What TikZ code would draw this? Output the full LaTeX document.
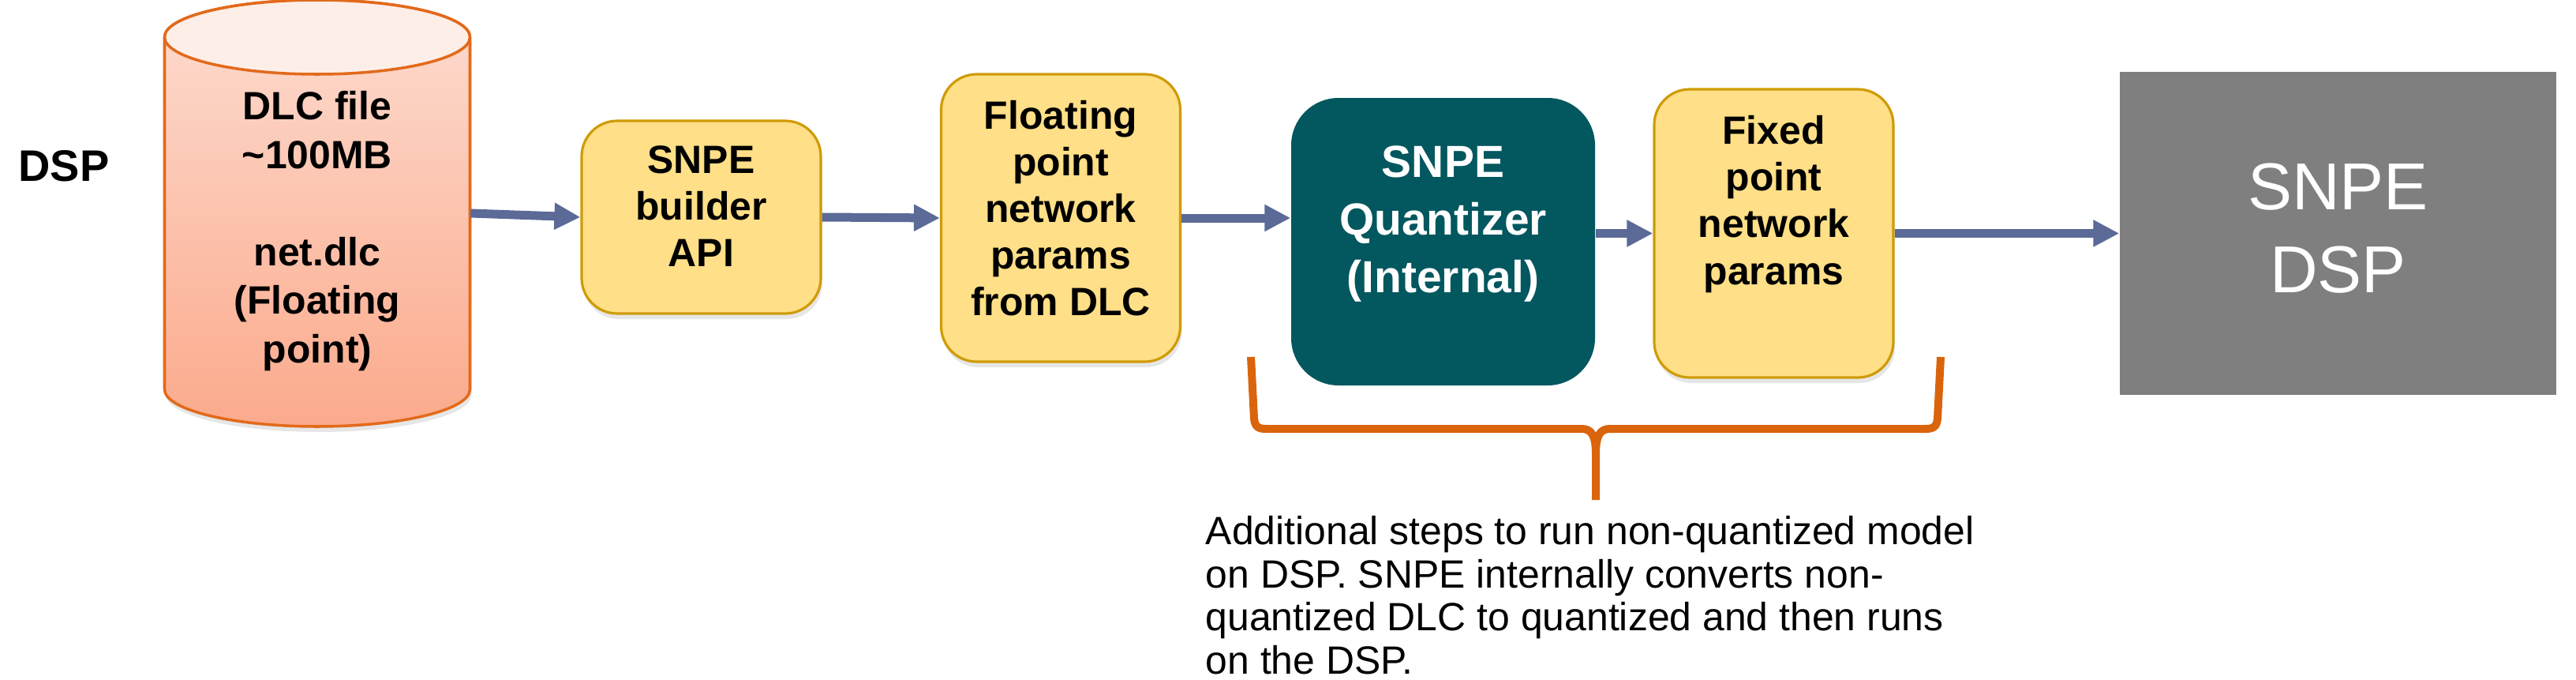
\documentclass[tikz,border=0pt]{standalone}
\usepackage{fontspec}
\setmainfont{Liberation Sans}
\usepackage{tikz}
\usetikzlibrary{arrows.meta,shadows}

\definecolor{boxfill}{HTML}{FFDF87}
\definecolor{boxedge}{HTML}{CF9B05}
\definecolor{quantfill}{HTML}{03575F}
\definecolor{dspgray}{HTML}{7F7F7F}
\definecolor{flowblue}{HTML}{5B6A96}
\definecolor{braceorange}{HTML}{D9640C}
\definecolor{dlctop}{HTML}{FDDCD0}
\definecolor{dlcbottom}{HTML}{FBAA8C}
\definecolor{dlccap}{HTML}{FEEEE8}
\definecolor{dlcedge}{HTML}{E26A1B}

\newcommand{\boxtext}[2]{\raisebox{#1}[0pt][0pt]{\begin{tabular}{@{}c@{}}#2\end{tabular}}}

\begin{document}
\begin{tikzpicture}[
  box/.style={draw=boxedge,fill=boxfill,line width=0.9pt,rounded corners=0.45cm,minimum width=3.03cm,
    font=\fontsize{14.2}{16.8}\selectfont\bfseries,
    drop shadow={shadow xshift=0.02cm,shadow yshift=-0.07cm,opacity=0.2}},
  flow/.style={-{Triangle[length=0.33cm,width=0.32cm]},line width=0.11cm,draw=flowblue},
  brace/.style={line width=0.1cm,draw=braceorange}]
  \useasboundingbox (0,0) rectangle (32.64,-8.60);
  \shadedraw[top color=dlctop,bottom color=dlcbottom,draw=dlcedge,line width=1pt,
    drop shadow={shadow xshift=0.02cm,shadow yshift=-0.07cm,opacity=0.2}]
    (2.085,-0.47) -- (2.085,-4.93) arc (180:360:1.935 and 0.47) -- (5.955,-0.47) arc (0:180:1.935 and 0.47) -- cycle;
  \draw[fill=dlccap,draw=dlcedge,line width=1pt] (4.02,-0.47) ellipse (1.935 and 0.47);
  \node (dsplabel) at (0.81,-2.10) [font=\fontsize{15.9}{19}\selectfont\bfseries] {DSP};
  \node (dlc) at (4.02,-2.935) [minimum width=3.87cm,font=\fontsize{14.2}{17.5}\selectfont\bfseries]
    {\boxtext{-3.5pt}{DLC file\\\textasciitilde100MB\\ \\net.dlc\\(Floating\\point)}};
  \node (builder) at (8.885,-2.75) [box,minimum height=2.44cm] {\boxtext{-1.2pt}{SNPE\\builder\\API}};
  \node (floating) at (13.44,-2.76) [box,minimum height=3.64cm] {\boxtext{-1.8pt}{Floating\\point\\network\\params\\from DLC}};
  \node (quant) at (18.285,-3.06) [fill=quantfill,text=white,rounded corners=0.6cm,minimum width=3.85cm,minimum height=3.64cm,
    font=\fontsize{16.2}{20.8}\selectfont\bfseries] {\boxtext{2.3pt}{SNPE\\Quantizer\\(Internal)}};
  \node (fixed) at (22.475,-2.955) [box,minimum height=3.65cm] {\boxtext{6.6pt}{Fixed\\point\\network\\params}};
  \node (dspbox) at (29.625,-2.955) [fill=dspgray,text=white,minimum width=5.53cm,minimum height=4.09cm,
    font=\fontsize{23.9}{29.9}\selectfont] {\boxtext{-6.6pt}{SNPE\\DSP}};
  \draw[flow] ([yshift=0.235cm]dlc.east) -- (builder.west);
  \draw[flow] (builder.east) -- (floating.west);
  \draw[flow] (floating.east) -- (floating.east -| quant.west);
  \draw[flow] (fixed.west -| quant.east) -- (fixed.west);
  \draw[flow] (fixed.east) -- (dspbox.west);
  \draw[brace] (15.85,-4.52) -- (15.89,-5.30) .. controls (15.90,-5.40) and (15.94,-5.43) .. (16.04,-5.43)
    -- (20.04,-5.43) .. controls (20.17,-5.43) and (20.22,-5.52) .. (20.22,-5.75) -- (20.22,-6.33);
  \draw[brace] (24.59,-4.52) -- (24.55,-5.30) .. controls (24.54,-5.40) and (24.50,-5.43) .. (24.40,-5.43)
    -- (20.40,-5.43) .. controls (20.27,-5.43) and (20.22,-5.52) .. (20.22,-5.75);
  \node (note) at (15.27,-6.53) [anchor=north west,inner sep=0pt,align=left,font=\fontsize{14.2}{15.5}\selectfont]
    {Additional steps to run non-quantized model\\on DSP. SNPE internally converts non-\\quantized DLC to quantized and then runs\\on the DSP.};
\end{tikzpicture}
\end{document}
